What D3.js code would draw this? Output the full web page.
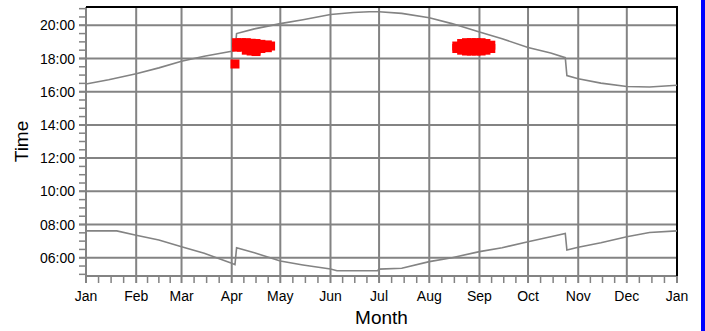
<!DOCTYPE html>
<html lang="en">
<head>
<meta charset="UTF-8">
<title>Sunrise and sunset</title>
<script src="https://d3js.org/d3.v7.min.js"></script>
<style>
  body { margin: 0; background: #fff; }
  text { font-family: "Liberation Sans", Arial, sans-serif; fill: #000; }
</style>
</head>
<body>
<svg id="chart"></svg>
<script>
// values: [day, "HH:MM"]
const sunset = [
  ["2001-01-01", "16:28"], ["2001-01-15", "16:43"], ["2001-02-01", "17:05"],
  ["2001-02-15", "17:26"], ["2001-03-01", "17:50"], ["2001-03-15", "18:08"],
  ["2001-04-01", "18:26"], ["2001-04-03", "18:29"], ["2001-04-04", "19:30"],
  ["2001-04-15", "19:47"], ["2001-05-01", "20:06"], ["2001-05-15", "20:20"],
  ["2001-06-01", "20:39"], ["2001-06-15", "20:46"], ["2001-06-25", "20:49"],
  ["2001-07-01", "20:49"], ["2001-07-15", "20:43"], ["2001-08-01", "20:27"],
  ["2001-08-15", "20:06"], ["2001-09-01", "19:36"], ["2001-09-15", "19:11"],
  ["2001-10-01", "18:40"], ["2001-10-15", "18:20"], ["2001-10-24", "18:03"],
  ["2001-10-25", "16:58"], ["2001-11-01", "16:47"], ["2001-11-15", "16:31"],
  ["2001-12-01", "16:19"], ["2001-12-15", "16:17"], ["2002-01-01", "16:23"]
];

const sunrise = [
  ["2001-01-01", "07:37"], ["2001-01-20", "07:37"], ["2001-02-01", "07:21"],
  ["2001-02-15", "07:04"], ["2001-03-01", "06:40"], ["2001-03-15", "06:16"],
  ["2001-04-01", "05:40"], ["2001-04-03", "05:35"], ["2001-04-04", "06:36"],
  ["2001-04-15", "06:18"], ["2001-05-01", "05:48"], ["2001-05-15", "05:34"],
  ["2001-06-01", "05:19"], ["2001-06-05", "05:13"], ["2001-06-30", "05:13"],
  ["2001-07-01", "05:19"], ["2001-07-15", "05:22"], ["2001-08-01", "05:46"],
  ["2001-08-15", "06:00"], ["2001-09-01", "06:22"], ["2001-09-15", "06:36"],
  ["2001-10-01", "06:58"], ["2001-10-15", "07:16"], ["2001-10-24", "07:28"],
  ["2001-10-25", "06:28"], ["2001-11-01", "06:38"], ["2001-11-15", "06:54"],
  ["2001-12-01", "07:16"], ["2001-12-15", "07:31"], ["2002-01-01", "07:37"]
];

// red observations
const observed = [
  ["2001-04-03", "17:40"],
  ["2001-04-04", "18:57"], ["2001-04-04", "18:41"],
  ["2001-04-07", "18:57"], ["2001-04-07", "18:41"],
  ["2001-04-10", "18:57"], ["2001-04-10", "18:42"], ["2001-04-10", "18:30"],
  ["2001-04-13", "18:55"], ["2001-04-13", "18:36"], ["2001-04-13", "18:27"],
  ["2001-04-16", "18:54"], ["2001-04-16", "18:30"], ["2001-04-16", "18:25"],
  ["2001-04-19", "18:51"], ["2001-04-19", "18:36"],
  ["2001-04-23", "18:49"], ["2001-04-23", "18:39"], ["2001-04-25", "18:45"],
  ["2001-08-18", "18:45"], ["2001-08-18", "18:36"],
  ["2001-08-21", "18:54"], ["2001-08-21", "18:36"], ["2001-08-21", "18:30"],
  ["2001-08-24", "18:57"], ["2001-08-24", "18:42"], ["2001-08-24", "18:27"],
  ["2001-08-27", "18:57"], ["2001-08-27", "18:42"], ["2001-08-27", "18:27"],
  ["2001-08-30", "18:57"], ["2001-08-30", "18:42"], ["2001-08-30", "18:27"],
  ["2001-09-02", "18:57"], ["2001-09-02", "18:42"], ["2001-09-02", "18:27"],
  ["2001-09-05", "18:54"], ["2001-09-05", "18:36"], ["2001-09-05", "18:30"],
  ["2001-09-08", "18:48"], ["2001-09-08", "18:36"]
];

const hourTicks = [6, 8, 10, 12, 14, 16, 18, 20];
const monthLabels = ["Jan", "Feb", "Mar", "Apr", "May", "Jun", "Jul", "Aug", "Sep", "Oct", "Nov", "Dec", "Jan"];

const width = 705, height = 331;
const plotL = 86, plotR = 677, plotT = 7, plotB = 276;
const grey = "#838383";

const parseDay = d3.timeParse("%Y-%m-%d");
const toHours = s => { const [h, m] = s.split(":").map(Number); return h + m / 60; };
const rows = arr => arr.map(d => ({ date: parseDay(d[0]), t: toHours(d[1]) }));

const x = d3.scaleTime().domain([new Date(2001, 0, 1), new Date(2002, 0, 1)]).range([plotL, plotR]);
const y = d3.scaleLinear().domain([4.9, 21.1]).range([plotB, plotT]);

const svg = d3.select("#chart").attr("width", width).attr("height", height);

const months = d3.timeMonth.range(new Date(2001, 0, 1), new Date(2002, 0, 2));

// minor ticks: three per month, evenly spaced
const minorX = [];
months.slice(0, -1).forEach((m, i) => {
  const a = +m, b = +months[i + 1];
  [0.25, 0.5, 0.75].forEach(f => minorX.push(new Date(a + (b - a) * f)));
});
const minorY = d3.range(5, 21.01, 0.5);

// grid
svg.append("g").selectAll("line").data(months).join("line")
  .attr("x1", d => x(d)).attr("x2", d => x(d))
  .attr("y1", plotT).attr("y2", plotB + 7)
  .attr("stroke", grey).attr("stroke-width", 2);
svg.append("g").selectAll("line").data(hourTicks).join("line")
  .attr("x1", plotL - 7).attr("x2", plotR)
  .attr("y1", d => y(d)).attr("y2", d => y(d))
  .attr("stroke", grey).attr("stroke-width", 2);

// minor ticks
svg.append("g").selectAll("line").data(minorX).join("line")
  .attr("x1", d => x(d)).attr("x2", d => x(d))
  .attr("y1", plotB).attr("y2", plotB + 7)
  .attr("stroke", grey).attr("stroke-width", 1.5);
svg.append("g").selectAll("line").data(minorY).join("line")
  .attr("x1", plotL - 7).attr("x2", plotL)
  .attr("y1", d => y(d)).attr("y2", d => y(d))
  .attr("stroke", grey).attr("stroke-width", 1.5);

// frame: grey axes, black top / right
svg.append("line").attr("x1", plotL).attr("x2", plotL).attr("y1", plotT).attr("y2", plotB)
  .attr("stroke", grey).attr("stroke-width", 2);
svg.append("line").attr("x1", plotL).attr("x2", plotR).attr("y1", plotB).attr("y2", plotB)
  .attr("stroke", grey).attr("stroke-width", 2);
svg.append("line").attr("x1", plotL).attr("x2", plotR + 1).attr("y1", plotT).attr("y2", plotT)
  .attr("stroke", "#000").attr("stroke-width", 2);
svg.append("line").attr("x1", plotR).attr("x2", plotR).attr("y1", plotT).attr("y2", plotB)
  .attr("stroke", "#000").attr("stroke-width", 2);

// sunrise / sunset curves
const line = d3.line().x(d => x(d.date)).y(d => y(d.t));
[sunset, sunrise].forEach(s => {
  svg.append("path").datum(rows(s)).attr("d", line)
    .attr("fill", "none").attr("stroke", grey).attr("stroke-width", 1.6);
});

// red square markers
const sq = 9;
svg.append("g").selectAll("rect").data(rows(observed)).join("rect")
  .attr("x", d => x(d.date) - sq / 2).attr("y", d => y(d.t) - sq / 2)
  .attr("width", sq).attr("height", sq).attr("fill", "#ff0000");

// tick labels
svg.append("g").selectAll("text").data(hourTicks).join("text")
  .attr("x", plotL - 11).attr("y", d => y(d)).attr("dy", "0.36em")
  .attr("text-anchor", "end").style("font-size", "14px")
  .text(d => d3.format("02")(d) + ":00");
svg.append("g").selectAll("text").data(months).join("text")
  .attr("x", d => x(d)).attr("y", 301)
  .attr("text-anchor", "middle").style("font-size", "14px")
  .text((d, i) => monthLabels[i]);

// axis titles
svg.append("text").attr("x", (plotL + plotR) / 2).attr("y", 324)
  .attr("text-anchor", "middle").style("font-size", "19px").text("Month");
svg.append("text").attr("transform", `translate(28,${(plotT + plotB) / 2}) rotate(-90)`)
  .attr("text-anchor", "middle").style("font-size", "19px").text("Time");

// blue strip at the right edge
svg.append("rect").attr("x", 701).attr("y", 0).attr("width", 4).attr("height", height)
  .attr("fill", "#0000ff");
</script>
</body>
</html>
